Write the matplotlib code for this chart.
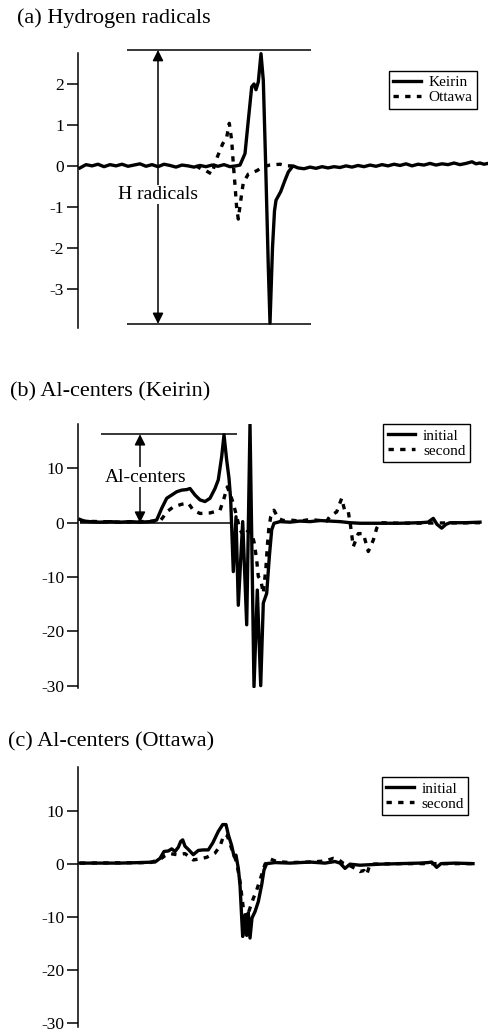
import matplotlib.pyplot as plt

plt.rcParams['font.family'] = ['Liberation Serif', 'DejaVu Serif']
plt.rcParams['axes.unicode_minus'] = False

# field axis is arbitrary (no x axis drawn)
# (a) Hydrogen radicals
field_a_keirin = [80, 86, 92, 98, 104, 110, 116, 122, 128, 134, 140, 146, 152, 158, 164, 170,
                  176, 182, 188, 194, 200, 206, 212, 218, 224, 230, 236, 240,
                  245, 248.3, 251.7, 254, 256, 258.3, 261, 263.3, 265.7, 268.3, 270,
                  272.5, 274.5, 276, 280.7, 285, 288.3, 293,
                  298, 304, 310, 316, 322, 328, 334, 340, 346, 352, 358, 364, 370, 376,
                  382, 388, 394, 400, 406, 412, 418, 424, 430, 436, 442, 448, 454, 460,
                  466, 472, 476, 480, 484, 488]
keirin = [-0.05, 0.03, 0.0, 0.04, -0.02, 0.03, 0.0, 0.04, -0.01, 0.02, 0.05, -0.01, 0.03, -0.02,
          0.04, 0.01, -0.03, 0.02, 0.0, -0.03, 0.01, -0.02, 0.02, -0.01, 0.03, -0.02, 0.0, 0.02,
          0.3, 1.11, 1.93, 2.0, 1.86, 2.05, 2.74, 2.09, 0.0, -2.46, -3.84,
          -2.0, -1.1, -0.84, -0.63, -0.35, -0.15, 0.0,
          -0.05, -0.07, -0.03, -0.06, -0.02, -0.05, -0.02, -0.04, 0.0, -0.03, 0.01, -0.02,
          0.02, -0.01, 0.03, 0.0, 0.04, 0.01, 0.05, 0.0, 0.04, 0.02, 0.06, 0.02, 0.05, 0.03,
          0.07, 0.03, 0.06, 0.1, 0.05, 0.07, 0.04, 0.06]
field_a_ottawa = [196, 201.7, 206, 211.7, 216.7, 222.7, 226.7, 229.3, 231.7, 233.3, 235,
                  236.7, 238.3, 240.7, 243.3, 248.3, 256.7, 263.3, 270, 280, 286.7, 292]
ottawa = [0.0, -0.08, -0.12, -0.2, 0.18, 0.54, 0.7, 1.04, 0.62, 0.05, -0.47,
          -1.04, -1.3, -0.85, -0.41, -0.2, -0.12, -0.02, 0.02, 0.04, 0.0, 0.0]

# (b) Al-centers (Keirin)
field_b_init = [80, 84, 90, 100, 110, 120, 130, 140, 150, 156.7, 161.7, 166.7, 171.7, 176.7,
                181.7, 186.7, 190, 195, 200, 205, 210, 215, 218.3, 221.7, 224, 226.7, 229,
                230.7, 233.3, 236, 238.3, 242.7, 246.7, 250, 254, 257.3, 260.7, 263.3, 266.7,
                269.3, 271.7, 274, 280, 290, 300, 310, 320, 330, 340, 350, 360, 380, 400,
                420, 428, 433.3, 437, 441.7, 446, 450, 465, 480]
b_initial = [0.6, 0.3, 0.2, 0.1, 0.2, 0.1, 0.2, 0.1, 0.2, 0.5, 2.65, 4.5, 5.1, 5.7,
             6.0, 6.1, 6.3, 5.1, 4.2, 3.9, 4.5, 6.3, 7.9, 12.2, 16.2, 11.5, 8.2,
             4.2, -9.0, 1.1, -15.2, 0.2, -18.8, 18.1, -30.2, -12.4, -30.0, -14.8, -13.0,
             -6.3, -1.3, -0.1, 0.2, 0.1, 0.3, 0.2, 0.4, 0.3, 0.2, 0.0, -0.1, -0.1, -0.1,
             0.0, 0.1, 0.8, -0.3, -1.0, -0.3, 0.0, 0.0, 0.1]
field_b_second = [80, 120, 160, 163, 166.7, 173.3, 181.7, 188.3, 193.3, 200, 210, 220, 224,
                  227.3, 230, 233.3, 236.7, 240, 244, 248, 252, 254.3, 256.7, 258.3, 260.7,
                  263.3, 266, 267.3, 268.7, 270.7, 274, 278.3, 283.3, 290, 300, 310, 320,
                  326.7, 330, 336.7, 341.7, 345, 348.3, 350.5, 353.3, 358.3, 363.3, 368.3,
                  373.3, 376.7, 380, 400, 480]
b_second = [0.3, 0.1, 0.3, 1.0, 2.0, 2.9, 3.4, 3.6, 2.3, 1.7, 1.8, 2.3, 4.5,
            6.6, 5.3, 3.6, 1.1, -1.3, -2.5, -1.5, -2.0, -3.8, -6.9, -9.9, -10.5,
            -13.0, -8.1, -4.4, -1.3, 1.1, 2.3, 0.8, 0.4, 0.5, 0.3, 0.6, 0.4,
            0.3, 1.2, 2.0, 4.5, 2.0, 2.0, -0.5, -4.4, -2.0, -2.0, -5.3,
            -3.2, -1.0, 0.0, -0.1, 0.0]

# (c) Al-centers (Ottawa)
field_c_init = [80, 100, 120, 140, 155, 160, 164, 168.3, 171.7, 175, 178.3, 180.7, 182.7, 185,
                188.3, 193.3, 198.3, 203.3, 208.3, 212.7, 218.3, 222.7, 226, 228.3, 231.7,
                234, 236, 238.3, 240, 241.7, 242.7, 245, 246.7, 248.3, 250, 252, 255, 258.3,
                261.7, 264, 266.7, 275, 290, 310, 325, 335, 340, 345, 350, 360, 380, 400,
                420, 428, 431.7, 436.7, 441, 455, 473]
c_initial = [0.2, 0.2, 0.2, 0.3, 0.4, 1.1, 2.4, 2.5, 2.9, 2.4, 3.2, 4.3, 4.6, 3.4,
             2.8, 1.8, 2.6, 2.7, 2.7, 4.0, 6.2, 7.5, 7.5, 5.6, 3.5,
             1.5, 1.7, -0.8, -3.9, -10.2, -13.7, -9.6, -13.5, -9.2, -14.0, -10.2, -9.0, -7.1,
             -3.9, -1.1, 0.1, 0.3, 0.2, 0.4, 0.2, 0.5, 0.2, -0.8, 0.0, -0.2, 0.0, 0.1,
             0.2, 0.3, 0.4, -0.6, 0.1, 0.2, 0.1]
field_c_second = [80, 150, 160, 165, 170, 176.7, 185, 193.3, 200, 206.7, 215, 220, 224, 227.3,
                  231.7, 236.7, 240, 243.3, 246.7, 250, 253.3, 256.7, 260, 265, 270, 276.7,
                  290, 310, 325, 333.3, 338.3, 343, 350, 356, 360, 364, 366.7, 370, 400, 473]
c_second = [0.2, 0.3, 0.9, 1.6, 2.0, 1.8, 2.0, 0.8, 1.0, 1.3, 2.1, 3.4, 5.6, 5.4,
            2.9, 0.3, -3.3, -8.3, -10.2, -8.3, -6.5, -4.9, -3.0, 0.0, 1.0, 0.5,
            0.3, 0.4, 0.6, 1.1, 0.9, 0.2, -0.3, -0.9, -1.4, -1.2, -2.0, 0.0, 0.1, 0.1]

W, H = 489, 1032
fig = plt.figure(figsize=(W / 100, H / 100), dpi=100)


def add_panel(top, bottom):
    ax = fig.add_axes([78 / W, 1 - bottom / H, (W - 78) / W, (bottom - top) / H])
    for s in ['top', 'right', 'bottom']:
        ax.spines[s].set_visible(False)
    ax.spines['left'].set_linewidth(1.1)
    ax.set_xticks([])
    ax.tick_params(axis='y', length=8, width=1.1, labelsize=12.5, pad=2)
    ax.set_xlim(78, 489)
    return ax


solid = dict(color='black', lw=2.4, solid_joinstyle='round')
dotted = dict(color='black', lw=2.4, linestyle=(0, (1.6, 1.9)))
arrow = dict(arrowstyle='<|-|>', color='black', lw=1.1, mutation_scale=16, shrinkA=0, shrinkB=0)
leg_kw = dict(loc='upper right', fontsize=11, frameon=True, fancybox=False, edgecolor='black',
              framealpha=1, borderpad=0.3, labelspacing=0.1, handlelength=1.8,
              handletextpad=0.5, borderaxespad=0)

# ---- (a)
ax = add_panel(50, 328)
ax.set_ylim(-3.96, 2.83)
ax.spines['left'].set_bounds(-3.96, 2.75)
ax.set_yticks([-3, -2, -1, 0, 1, 2])
ax.plot(field_a_ottawa, ottawa, label='Ottawa', **dotted)
ax.plot(field_a_keirin, keirin, label='Keirin', **solid)
ax.hlines([2.83, -3.86], 127, 311, color='black', lw=1.1, clip_on=False)
ax.annotate('', xy=(158, 2.83), xytext=(158, -3.86), arrowprops=arrow, annotation_clip=False)
ax.text(158, -0.7, 'H radicals', ha='center', va='center', fontsize=14,
        bbox=dict(facecolor='white', edgecolor='none', pad=1))
h, l = ax.get_legend_handles_labels()
ax.legend(h[::-1], l[::-1], bbox_to_anchor=(477 / W, 1 - 70.7 / H),
          bbox_transform=fig.transFigure, **leg_kw)
fig.text(17 / W, 1 - 18 / H, '(a) Hydrogen radicals', fontsize=16, va='center')

# ---- (b)
ax = add_panel(424, 688)
ax.set_ylim(-30.44, 18.18)
ax.set_yticks([-30, -20, -10, 0, 10])
ax.plot(field_b_second, b_second, label='second', **dotted)
ax.plot(field_b_init, b_initial, label='initial', **solid)
ax.hlines(16.3, 101, 237, color='black', lw=1.1)
ax.hlines(0, 80, 232, color='black', lw=1.1)
ax.annotate('', xy=(140, 16.3), xytext=(140, 0), arrowprops=arrow)
ax.text(146, 8.4, 'Al-centers', ha='center', va='center', fontsize=14,
        bbox=dict(facecolor='white', edgecolor='none', pad=1))
h, l = ax.get_legend_handles_labels()
ax.legend(h[::-1], l[::-1], bbox_to_anchor=(470 / W, 1 - 424.3 / H),
          bbox_transform=fig.transFigure, **leg_kw)
fig.text(10 / W, 1 - 391.7 / H, '(b) Al-centers (Keirin)', fontsize=16, va='center')

# ---- (c)
ax = add_panel(767.3, 1027)
ax.set_ylim(-30.85, 18.35)
ax.set_yticks([-30, -20, -10, 0, 10])
ax.plot(field_c_second, c_second, label='second', **dotted)
ax.plot(field_c_init, c_initial, label='initial', **solid)
h, l = ax.get_legend_handles_labels()
ax.legend(h[::-1], l[::-1], bbox_to_anchor=(468.3 / W, 1 - 777.3 / H),
          bbox_transform=fig.transFigure, **leg_kw)
fig.text(8 / W, 1 - 741.7 / H, '(c) Al-centers (Ottawa)', fontsize=16, va='center')

fig.savefig('out.png', dpi=100)
